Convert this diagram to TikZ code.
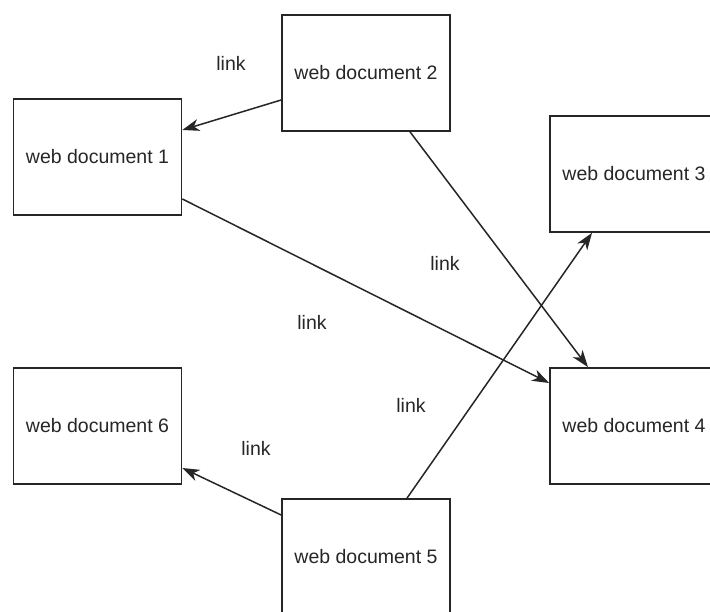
\documentclass[tikz,border=0pt]{standalone}
\usepackage{fontspec}
\setmainfont{Liberation Sans}
\usetikzlibrary{arrows.meta}
\begin{document}
\begin{tikzpicture}[x=1pt,y=-1pt,
  doc/.style={draw=black!85, line width=1.7pt, fill=white,
    minimum width=168pt, minimum height=116pt, inner sep=0pt,
    font=\fontsize{19.5}{22}\selectfont, text=black!85},
  lnk/.style={draw=black!85, line width=1.5pt,
    -{Stealth[length=17pt,width=12pt,inset=5pt]}},
  lbl/.style={font=\fontsize{19.5}{22}\selectfont, text=black!85}]
\useasboundingbox (0,0) rectangle (710,612);
\clip (0,0) rectangle (710,612);
\fill[white] (0,0) rectangle (710,612);

% documents (text sits a little below the box centre)
\node[doc] (d1) at (97.5,157) {\raisebox{-2pt}{web document 1}};
\node[doc] (d2) at (366,73)   {\raisebox{-3pt}{web document 2}};
\node[doc] (d3) at (634,174)  {\raisebox{-2pt}{web document 3}};
\node[doc] (d4) at (634,426)  {\raisebox{-2pt}{web document 4}};
\node[doc] (d5) at (366,557)  {\raisebox{-2pt}{web document 5}};
\node[doc] (d6) at (97.5,426) {\raisebox{-1pt}{web document 6}};

% links between documents
\draw[lnk] ([yshift=-27pt]d2.west) -- ([yshift=27pt]d1.east);
\draw[lnk] ([xshift=44pt]d2.south) -- ([xshift=-46pt]d4.north);
\draw[lnk] ([yshift=-42pt]d1.east) -- ([yshift=43pt]d4.west);
\draw[lnk] ([xshift=41pt]d5.north) -- ([xshift=-42pt]d3.south);
\draw[lnk] ([yshift=42pt]d5.west) -- ([yshift=-42pt]d6.east);

% labels
\node[lbl] (l1) at (231,63)  {link};
\node[lbl] (l2) at (445,263) {link};
\node[lbl] (l3) at (312,322) {link};
\node[lbl] (l4) at (411,405) {link};
\node[lbl] (l5) at (256,448) {link};
\end{tikzpicture}
\end{document}
